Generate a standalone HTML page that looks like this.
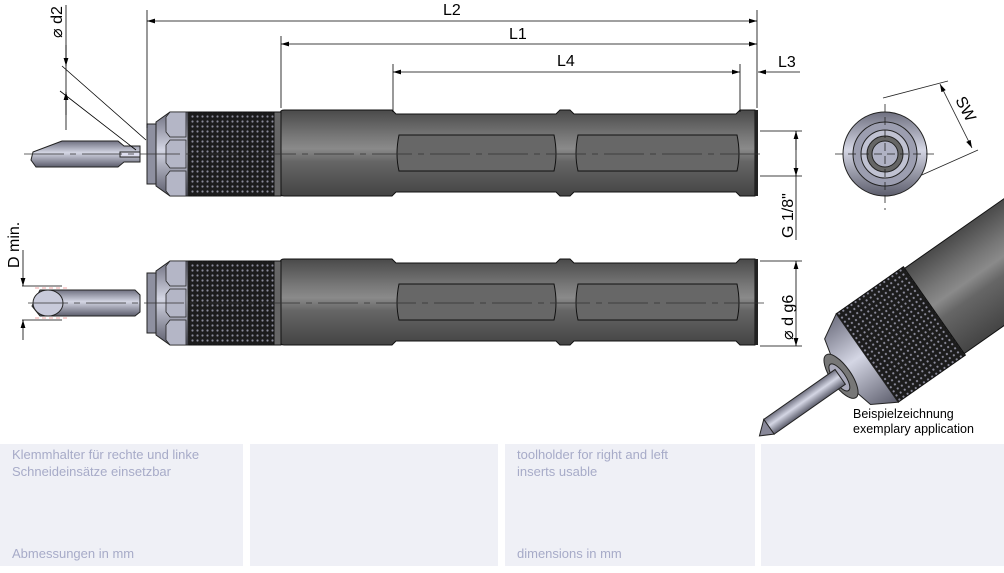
<!DOCTYPE html>
<html><head><meta charset="utf-8"><style>
html,body{margin:0;padding:0;background:#fff;width:1004px;height:573px;overflow:hidden}
svg{position:absolute;left:0;top:0}
.box{position:absolute;top:444px;height:122px;background:#eff0f6;font-family:"Liberation Sans Narrow","Liberation Sans",sans-serif;font-size:13px;color:#a7abc8;line-height:17px}
.box .t{position:absolute;left:12px;top:2px}
.box .b{position:absolute;left:12px;bottom:4px}
</style></head><body>
<svg width="1004" height="573" viewBox="0 0 1004 573" font-family="Liberation Sans, sans-serif">
<defs>
<linearGradient id="bod" x1="0" y1="0" x2="0" y2="1">
<stop offset="0" stop-color="#4a4a4a"/><stop offset=".3" stop-color="#777"/><stop offset=".45" stop-color="#8a8a8a"/><stop offset=".6" stop-color="#666"/><stop offset="1" stop-color="#444"/></linearGradient>
<linearGradient id="met" x1="0" y1="0" x2="0" y2="1">
<stop offset="0" stop-color="#6f7080"/><stop offset=".45" stop-color="#d4d6e4"/><stop offset="1" stop-color="#5c5d6c"/></linearGradient>
<pattern id="kn" width="5" height="5" patternUnits="userSpaceOnUse">
<rect width="5" height="5" fill="#1c1c1c"/><circle cx="2.5" cy="2.5" r="1.1" fill="#8a8a9a"/></pattern>
<marker id="ar" viewBox="0 0 10 6" refX="10" refY="3" markerWidth="10" markerHeight="6" orient="auto-start-reverse"><path d="M0,0 L10,3 L0,6z" fill="#000"/></marker>
<g id="tool">
<path d="M284,-44 H392 L396,-40 H556 L560,-44 H570 L574,-40 H736 L740,-44 H755 V42 H740 L736,38 H574 L570,42 H560 L556,38 H396 L392,42 H284 Q280,42 280,38 V-40 Q280,-44 284,-44z" fill="url(#bod)" stroke="#111" stroke-width="1"/>
<rect x="755" y="-44" width="3" height="86" fill="#222"/>
<path d="M399,-19 H554 Q558,0 554,17 H399 Q395,0 399,-19z" fill="#676767" stroke="#111"/>
<path d="M578,-19 H737 Q741,0 737,17 H578 Q574,0 578,-19z" fill="#676767" stroke="#111"/>
<rect x="273" y="-42" width="8" height="84" fill="#666" stroke="#111"/>
<rect x="188" y="-42" width="86" height="84" fill="url(#kn)" stroke="#111"/>
<path d="M156,-32 L170,-42 H188 V42 H170 L156,32z" fill="url(#met)" stroke="#222"/>
<path d="M170,-42 H186 V-17 H170 L166,-22 V-37z M170,-14 H186 V14 H170 L166,9 V-9z M170,17 H186 V42 H170 L166,37 V22z" fill="#b4b6c6" stroke="#222" stroke-width=".8"/>
<rect x="147" y="-30" width="9" height="60" fill="#8e90a0" stroke="#222"/>
</g>
</defs>

<use href="#tool" y="154"/>
<path d="M33,152 L62,141 H118 L124,146 H140 V162 H124 L118,167 H36 L31,160 Z" fill="url(#met)" stroke="#222"/>
<path d="M120,152 H140 V157 H120z" fill="#dde" stroke="#222"/>
<use href="#tool" y="303"/>
<path d="M40,290 H135 L140,295 V312 L135,316 H40 L32,306 Z" fill="url(#met)" stroke="#222"/>
<ellipse cx="48" cy="303" rx="15" ry="13" fill="#c8cadb" stroke="#222"/>
<line x1="35" y1="288" x2="70" y2="288" stroke="#e88" stroke-dasharray="4 3" stroke-width=".8"/>
<line x1="35" y1="318" x2="70" y2="318" stroke="#e88" stroke-dasharray="4 3" stroke-width=".8"/>

<g stroke="#333" stroke-width=".8">
<line x1="24" y1="154" x2="765" y2="154" stroke-dasharray="40 6 6 6"/>
<line x1="28" y1="303" x2="765" y2="303" stroke-dasharray="40 6 6 6"/>
</g>

<g stroke="#000" stroke-width=".8" fill="none">
<line x1="147" y1="10" x2="147" y2="128"/>
<line x1="757" y1="10" x2="757" y2="108"/>
<line x1="147" y1="21" x2="757" y2="21" marker-start="url(#ar)" marker-end="url(#ar)"/>
<line x1="281" y1="36" x2="281" y2="108"/>
<line x1="281" y1="44" x2="757" y2="44" marker-start="url(#ar)" marker-end="url(#ar)"/>
<line x1="393" y1="64" x2="393" y2="112"/>
<line x1="740" y1="64" x2="740" y2="112"/>
<line x1="393" y1="72" x2="740" y2="72" marker-start="url(#ar)" marker-end="url(#ar)"/>
<line x1="800" y1="72" x2="758" y2="72" marker-end="url(#ar)"/>
<line x1="66" y1="5" x2="66" y2="130"/>
<line x1="66" y1="45" x2="66" y2="66" marker-end="url(#ar)"/>
<line x1="66" y1="115" x2="66" y2="92" marker-end="url(#ar)"/>
<line x1="62" y1="66" x2="146" y2="140"/>
<line x1="60" y1="91" x2="136" y2="150"/>
<line x1="760" y1="131" x2="802" y2="131"/>
<line x1="760" y1="176" x2="802" y2="176"/>
<line x1="796" y1="131" x2="796" y2="240"/>
<line x1="796" y1="150" x2="796" y2="131" marker-end="url(#ar)"/>
<line x1="796" y1="160" x2="796" y2="176" marker-end="url(#ar)"/>
<line x1="760" y1="261" x2="802" y2="261"/>
<line x1="760" y1="346" x2="802" y2="346"/>
<line x1="796" y1="261" x2="796" y2="346" marker-start="url(#ar)" marker-end="url(#ar)"/>
<line x1="22" y1="286" x2="62" y2="286"/>
<line x1="22" y1="320" x2="62" y2="320"/>
<line x1="23" y1="250" x2="23" y2="286" marker-end="url(#ar)"/>
<line x1="23" y1="340" x2="23" y2="320" marker-end="url(#ar)"/>
</g>
<g font-size="16" fill="#000">
<text x="443" y="15">L2</text>
<text x="509" y="39">L1</text>
<text x="557" y="66">L4</text>
<text x="778" y="67">L3</text>
<text transform="translate(62,38) rotate(-90)">⌀ d2</text>
<text transform="translate(793,238) rotate(-90)">G 1/8"</text>
<text transform="translate(793,340) rotate(-90)">⌀ d g6</text>
<text transform="translate(19,268) rotate(-90)">D min.</text>
<text transform="translate(955,100) rotate(62)">SW</text>
</g>

<g stroke="#222">
<line x1="883" y1="98" x2="948" y2="81" stroke-width=".8"/>
<line x1="915" y1="178" x2="978" y2="150" stroke-width=".8"/>
<line x1="940" y1="84" x2="972" y2="148" stroke-width=".8" marker-start="url(#ar)" marker-end="url(#ar)"/>
<circle cx="885" cy="154" r="42" fill="url(#met)"/>
<circle cx="885" cy="154" r="32" fill="#9c9eb0"/>
<circle cx="885" cy="154" r="24" fill="#c0c2d2"/>
<circle cx="885" cy="154" r="18" fill="#666"/>
<circle cx="885" cy="154" r="13" fill="#b0b2c4"/>
<line x1="835" y1="154" x2="935" y2="154" stroke-dasharray="8 5" stroke-width=".8"/>
<line x1="885" y1="104" x2="885" y2="210" stroke-dasharray="8 5" stroke-width=".8"/>
</g>

<g transform="translate(900,335) rotate(-35)">
<rect x="40" y="-52" width="220" height="104" fill="url(#bod)" stroke="#111"/>
<rect x="-40" y="-54" width="82" height="108" fill="url(#kn)" stroke="#111"/>
<path d="M-40,-54 L-64,-40 L-74,0 L-64,40 L-40,54z" fill="url(#met)" stroke="#222"/>
<ellipse cx="-72" cy="0" rx="10" ry="26" fill="#777" stroke="#222"/>
<ellipse cx="-74" cy="0" rx="6" ry="16" fill="#aab" stroke="#222"/>
<rect x="-160" y="-9" width="87" height="18" fill="url(#met)" stroke="#222"/>
<path d="M-160,-9 L-173,2 L-160,9z" fill="#889" stroke="#222"/>
</g>
<text x="853" y="418" font-size="12.5">Beispielzeichnung</text>
<text x="853" y="433" font-size="12.5">exemplary application</text>
</svg>
<div class="box" style="left:0;width:243px"><div class="t">Klemmhalter für rechte und linke<br>Schneideinsätze einsetzbar</div><div class="b">Abmessungen in mm</div></div>
<div class="box" style="left:250px;width:248px"></div>
<div class="box" style="left:505px;width:250px"><div class="t">toolholder for right and left<br>inserts usable</div><div class="b">dimensions in mm</div></div>
<div class="box" style="left:761px;width:243px"></div>
</body></html>
